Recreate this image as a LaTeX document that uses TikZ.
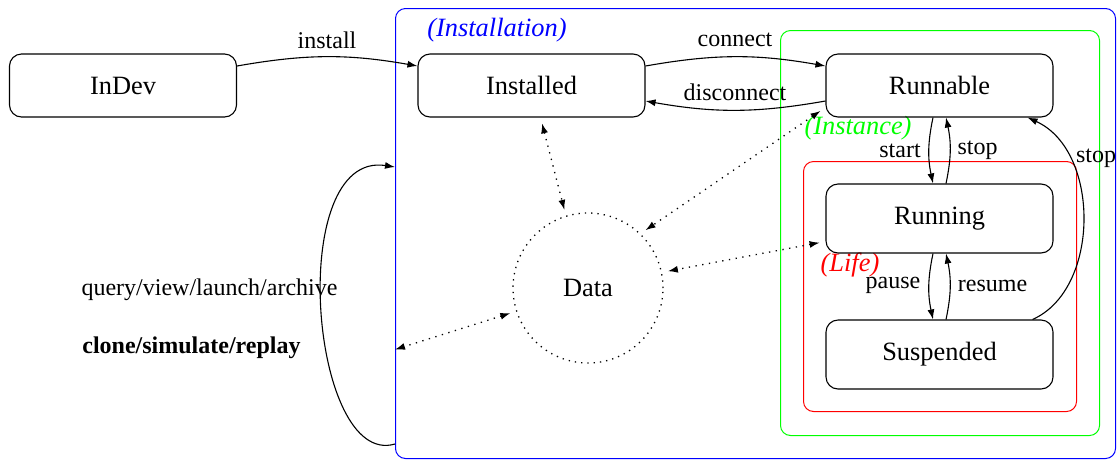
\documentclass[tikz,border=0pt]{standalone}
\usepackage{fontspec}
\setmainfont{Liberation Serif}
\usetikzlibrary{arrows.meta,calc}
\begin{document}
\begin{tikzpicture}[x=1pt,y=-1pt,
  state/.style={draw, line width=1.1pt, rounded corners=12pt, minimum width=227pt, font=\fontsize{26.4}{30}\selectfont},
  region/.style={draw, line width=1pt, rounded corners=10pt, anchor=north west, inner sep=0pt},
  lbl/.style={font=\fontsize{24}{28}\selectfont},
  rlbl/.style={font=\fontsize{26.4}{30}\selectfont\itshape},
  arr/.style={line width=1.1pt, -{Latex[length=10pt,width=7pt]}},
  darr/.style={line width=1.3pt, dash pattern=on 1.3pt off 5.5pt,
    {Latex[length=10pt,width=7pt]}-{Latex[length=10pt,width=7pt]}, shorten <=6pt, shorten >=6pt}]
\useasboundingbox (0,0) rectangle (1118,459);
% regions
\node[region, draw=blue, minimum width=720, minimum height=450] (inst) at (395,8) {};
\node[region, draw=green, minimum width=319, minimum height=405] (insc) at (780,30) {};
\node[region, draw=red, minimum width=273, minimum height=250] (life) at (803,161) {};
\node[rlbl, text=blue] (linst) at (497,30) {(Installation)};
\node[rlbl, text=green] (linsc) at (858,128) {(Instance)};
\node[rlbl, text=red] (llife) at (850,265) {(Life)};
% states
\node[state, minimum height=63] (indev) at (123,85.5) {InDev};
\node[state, minimum height=63] (installed) at (531.5,85.5) {Installed};
\node[state, minimum height=63] (runnable) at (939.5,85.5) {Runnable};
\node[state, minimum height=69] (running) at (939.5,218.5) {Running};
\node[state, minimum height=69] (suspended) at (939.5,354.5) {Suspended};
\node[circle, line width=1.3pt, dash pattern=on 1.3pt off 5pt, draw, minimum size=150, font=\fontsize{26.4}{30}\selectfont] (data) at (588,288) {Data};
% transitions
\draw[arr] ([yshift=19.5pt]indev.east) to[bend left=10] ([yshift=19.5pt]installed.west);
\draw[arr] ([yshift=19.5pt]installed.east) to[bend left=10] ([yshift=19.5pt]runnable.west);
\draw[arr] ([yshift=-15.5pt]runnable.west) to[bend left=10] ([yshift=-15.5pt]installed.east);
\draw[arr] ([xshift=-6.5pt]runnable.south) to[bend right=12] ([xshift=-6.5pt]running.north);
\draw[arr] ([xshift=6.5pt]running.north) to[bend right=12] ([xshift=6.5pt]runnable.south);
\draw[arr] ([xshift=-6.5pt]running.south) to[bend right=12] ([xshift=-6.5pt]suspended.north);
\draw[arr] ([xshift=6.5pt]suspended.north) to[bend right=12] ([xshift=6.5pt]running.south);
\draw[arr] ([xshift=-21pt]suspended.north east) .. controls +(68,-30) and +(73,33) .. ([xshift=-26pt]runnable.south east);
\draw[arr] ([yshift=15pt]inst.south west) .. controls +(-85,25) and +(-110,-17) .. ([yshift=-159pt]inst.north west);
% data links
\draw[darr] ([xshift=9pt]installed.south) -- (data.107);
\draw[darr] ([yshift=-22pt]runnable.west) -- (data.46);
\draw[darr] ([yshift=-23pt]running.west) -- (data.12);
\draw[darr, shorten >=0pt] (data.198) -- ([yshift=-116pt]inst.west);
% labels
\node[lbl] (tinstall) at (327,40) {install};
\node[lbl] (tconnect) at (735,40) {connect};
\node[lbl] (tdisconnect) at (735,92) {disconnect};
\node[lbl] (tstart) at (900,151) {start};
\node[lbl] (tstop) at (977.5,150.5) {stop};
\node[lbl] (tstop2) at (1096,158) {stop};
\node[lbl] (tpause) at (893,285) {pause};
\node[lbl] (tresume) at (992.5,285.5) {resume};
\node[lbl] (tquery) at (209.5,289.5) {query/view/launch/archive};
\node[lbl, font=\fontsize{24}{28}\selectfont\bfseries] (tclone) at (191.5,347.5) {clone/simulate/replay};
\end{tikzpicture}
\end{document}
